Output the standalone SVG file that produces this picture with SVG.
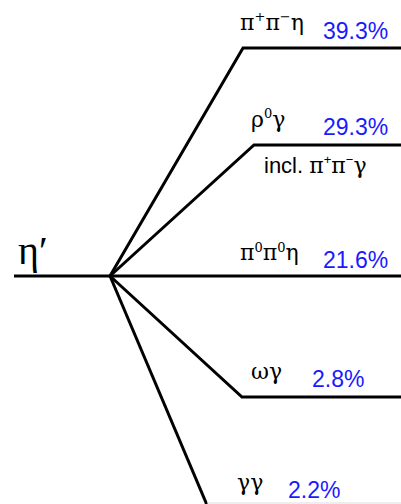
<svg xmlns="http://www.w3.org/2000/svg" width="401" height="504" viewBox="0 0 401 504">
<style>
.ln{stroke:#000;stroke-width:3;fill:none;stroke-linejoin:miter}
.g{font-family:"DejaVu Serif","Liberation Serif",serif;font-size:22px;fill:#000}
.gs{font-family:"DejaVu Serif","Liberation Serif",serif;font-size:22px}
.p{font-family:"Liberation Sans",Arial,sans-serif;font-size:23px;fill:#1a1aff}
.s{font-family:"Liberation Sans",Arial,sans-serif;font-size:22px;fill:#000}
.sup{font-size:13px}
</style>
<rect width="401" height="504" fill="#fff"/>
<g id="connectors">
<path class="ln" d="M14,276 H401"/>
<path class="ln" d="M110,276 L243,48 H401"/>
<path class="ln" d="M110,276 L254,145 H401"/>
<path class="ln" d="M110,276 L242,397 H401"/>
<path class="ln" d="M110,276 L207,505"/>
<path d="M207,503 H401" stroke="#ddd" stroke-width="1"/>
</g>
<g id="eta-prime"><text x="18" y="264" font-family="Liberation Serif, serif" font-size="40" fill="#000">η′</text></g>
<g id="pipieta"><text class="g" x="240" y="30">π<tspan class="sup" dy="-9">+</tspan><tspan dy="9">π</tspan><tspan class="sup" dy="-9">−</tspan><tspan dy="9">η</tspan></text><text class="p" x="323" y="39">39.3%</text></g>
<g id="rhogamma"><text class="g" x="251" y="127">ρ<tspan class="sup" dy="-9">0</tspan><tspan dy="9">γ</tspan></text><text class="p" x="323" y="135">29.3%</text><text class="s" x="264" y="173">incl. <tspan class="gs">π</tspan><tspan class="sup" dy="-9">+</tspan><tspan class="gs" dy="9">π</tspan><tspan class="sup" dy="-9">−</tspan><tspan class="gs" dy="9">γ</tspan></text></g>
<g id="pi0pi0eta"><text class="g" x="240" y="260">π<tspan class="sup" dy="-8">0</tspan><tspan dy="8">π</tspan><tspan class="sup" dy="-8">0</tspan><tspan dy="8">η</tspan></text><text class="p" x="323" y="268">21.6%</text></g>
<g id="omegagamma"><text class="g" x="251" y="379">ωγ</text><text class="p" x="312" y="387">2.8%</text></g>
<g id="gammagamma"><text class="g" x="237" y="490">γγ</text><text class="p" x="288" y="498">2.2%</text></g>
</svg>
